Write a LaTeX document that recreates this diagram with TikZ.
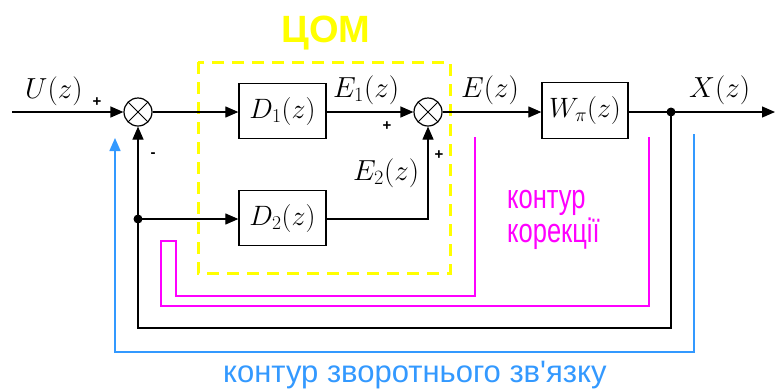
\documentclass[tikz,border=0pt]{standalone}
\usepackage{fix-cm}
\usepackage{fontspec}
\usetikzlibrary{arrows.meta}
\newfontfamily\lsans[Ligatures=TeXOff]{Liberation Sans}
\newfontfamily\lsansn[FakeStretch=0.75]{Liberation Sans}
\definecolor{blu}{HTML}{3399FF}
\definecolor{mag}{HTML}{FF00FF}
\definecolor{yel}{HTML}{FFFF00}
\begin{document}
\begin{tikzpicture}[x=1pt,y=-1pt,
  blk/.style={draw=black, line width=1.2pt},
  arr/.style={-{Triangle[length=13pt,width=11pt]}},
  box/.style={draw, line width=1.3pt, minimum width=87pt, minimum height=55pt, inner sep=0pt, font=\fontsize{28}{28}\selectfont},
  sumnode/.style={circle, draw, line width=1.2pt, minimum size=28pt, inner sep=0pt,
    path picture={\draw[line width=1pt] (path picture bounding box.north west) -- (path picture bounding box.south east)
      (path picture bounding box.north east) -- (path picture bounding box.south west);}},
  dotnode/.style={circle, fill, minimum size=9pt, inner sep=0pt},
  lbl/.style={font=\fontsize{29}{29}\selectfont, inner sep=0pt, anchor=base west},
  pm/.style={font=\lsans\bfseries\fontsize{15}{15}\selectfont, inner sep=0pt},
  magline/.style={draw=mag, line width=1.5pt},
  bluline/.style={draw=blu, line width=1.5pt}
]
\useasboundingbox (0,0) rectangle (775,389);
\fill[white] (0,0) rectangle (775,389);

% yellow dashed block
\draw[yel, line width=3pt, dash pattern=on 12pt off 8pt] (198,62) rectangle (450,273);
\node[font=\lsans\bfseries\fontsize{38}{38}\selectfont, text=yel, anchor=base, inner sep=0pt] (com) at (326,42) {ЦОМ};

% nodes
\node[sumnode] (s1) at (138,112) {};
\node[sumnode] (s2) at (428,112) {};
\node[box] (d1) at (282.5,111) {$D_1(z)$};
\node[box] (d2) at (282.5,218) {$D_2(z)$};
\node[box, minimum width=86pt, minimum height=56pt] (w) at (585,110.5) {$W_{\pi}(z)$};
\coordinate (in) at (12,112);
\coordinate (out) at (775,112);
\node[dotnode] (p1) at (671,112) {};
\node[dotnode] (p2) at (138,219) {};
\coordinate (c1) at (138,328);

% main path
\draw[blk,arr] (in) -- (s1.west);
\draw[blk,arr] (s1.east) -- (s1.east -| d1.west);
\draw[blk,arr] (d1.east |- s2.west) -- (s2.west);
\draw[blk,arr] (s2.east) -- (s2.east -| w.west);
\draw[blk,arr] (w.east |- out) -- (out);
\draw[blk,arr] (p1.center) |- (c1) -- (s1.south);
\draw[blk,arr] (p2.center) -- (p2 -| d2.west);
\draw[blk,arr] (d2.east |- p2) -| (s2.south);

% correction contour
\draw[magline] (475,137) -- (475,296) -- (176,296) -- (176,241) -- (161,241) -- (161,306) -- (649,306) -- (649,137);
% feedback contour
\draw[bluline,-{Triangle[length=13pt,width=11pt]}] (694,134) -- (694,352) -- (115,352) -- (115,138);

% labels
\node[lbl] (lu) at (25,98) {$U(z)$};
\node[pm] at (97,102) {+};
\node[pm] at (153,155) {-};
\node[lbl] (le1) at (333,97) {$E_1(z)$};
\node[pm] at (387,126) {+};
\node[lbl] (le) at (461,97) {$E(z)$};
\node[lbl] (lx) at (689,97) {$X(z)$};
\node[lbl] (le2) at (353,180) {$E_2(z)$};
\node[pm] at (439,155) {+};

\node[anchor=base west, inner sep=0pt, text=mag, font=\lsansn\fontsize{34}{34}\selectfont] (m1) at (507,208) {контур};
\node[anchor=base west, inner sep=0pt, text=mag, font=\lsansn\fontsize{34}{34}\selectfont] (m2) at (507,242) {корекції};
\node[anchor=base west, inner sep=0pt, text=blu, font=\lsans\fontsize{31}{31}\selectfont] (bt) at (223,382) {контур зворотнього зв'язку};
\end{tikzpicture}
\end{document}
